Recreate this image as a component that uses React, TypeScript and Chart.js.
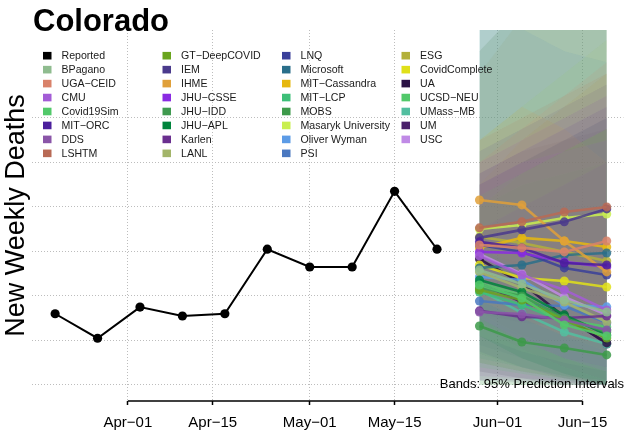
import React, { useEffect, useRef } from "react";
import { Chart, registerables } from "chart.js";

Chart.register(...registerables);

const TITLE = "Colorado";
const Y_TITLE = "New Weekly Deaths";
const BANDS_NOTE = "Bands: 95% Prediction Intervals";

const REPORTED_DATES = [
  "2021-03-20", "2021-03-27", "2021-04-03", "2021-04-10", "2021-04-17",
  "2021-04-24", "2021-05-01", "2021-05-08", "2021-05-15", "2021-05-22",
];
const REPORTED_VALUES = [32, 21, 35, 31, 32, 61, 53, 53, 87, 61];

const FORECAST_DATES = ["2021-05-29", "2021-06-05", "2021-06-12", "2021-06-19"];

const MODEL_NAMES = [
  "BPagano", "UGA\u2212CEID", "CMU", "Covid19Sim", "MIT\u2212ORC", "DDS", "LSHTM",
  "GT\u2212DeepCOVID", "IEM", "IHME", "JHU\u2212CSSE", "JHU\u2212IDD", "JHU\u2212APL", "Karlen", "LANL",
  "LNQ", "Microsoft", "MIT\u2212Cassandra", "MIT\u2212LCP", "MOBS", "Masaryk University", "Oliver Wyman", "PSI",
  "ESG", "CovidComplete", "UA", "UCSD\u2212NEU", "UMass\u2212MB", "UM", "USC",
];
const MODEL_COLORS = [
  "#8fbc8f", "#d9826a", "#a35cd6", "#52c96a", "#4b1f9c", "#8a55a8", "#b86a55",
  "#6aa51e", "#4a3a8c", "#e0a03a", "#8a2be2", "#3f9a4f", "#00843c", "#6a2f8f", "#a3b56a",
  "#3a3f9a", "#2a6f8a", "#e6b80f", "#3dbf78", "#3d9a4a", "#c9ef50", "#5c9be6", "#4a78c0",
  "#b3b03a", "#e0e019", "#2b1245", "#52c96a", "#52bfa0", "#4a1f6a", "#c08ae6",
];

// point forecasts (May 29, Jun 5, Jun 12, Jun 19)
const BPAGANO = [51.7, 45.4, 38.2, 32.8];
const UGA_CEID = [62.9, 61.6, 59.8, 64.7];
const CMU = [58.0, 49.4, 42.7, 33.7];
const COVID19SIM = [44.9, 39.1, 27.0, 22.0];
const MIT_ORC = [64.3, 61.6, 54.8, 53.9];
const DDS = [32.8, 31.9, 29.2, 24.7];
const LSHTM = [70.6, 73.3, 77.7, 80.0];
const GT_DEEPCOVID = [42.7, 38.2, 29.2, 21.1];
const IEM = [66.1, 69.7, 73.3, 79.1];
const IHME = [83.1, 80.9, 64.7, 50.8];
const JHU_CSSE = [59.8, 59.3, 55.3, 53.0];
const JHU_IDD = [43.6, 40.0, 30.1, 23.8];
const JHU_APL = [47.2, 41.8, 31.5, 22.5];
const KARLEN = [33.3, 30.6, 30.1, 31.0];
const LANL = [50.8, 43.6, 37.3, 28.3];
const LNQ = [62.9, 59.8, 52.6, 49.4];
const MICROSOFT = [52.6, 53.9, 58.4, 59.3];
const MIT_CASSANDRA = [61.6, 66.1, 64.7, 62.0];
const MIT_LCP = [41.8, 36.0, 28.3, 24.7];
const MOBS = [26.5, 19.3, 16.6, 13.5];
const MASARYK = [70.1, 71.9, 75.0, 76.8];
const OLIVER_WYMAN = [48.5, 47.2, 36.0, 35.1];
const PSI = [37.7, 36.0, 35.5, 27.9];
const ESG = [66.5, 63.8, 59.8, 55.7];
const COVIDCOMPLETE = [53.9, 48.1, 46.7, 44.0];
const UA = [56.6, 45.8, 30.6, 18.9];
const UCSD_NEU = [45.8, 40.4, 29.2, 26.1];
const UMASS_MB = [42.7, 32.4, 23.8, 18.4];
const UM = [45.8, 37.3, 31.5, 18.4];
const USC = [58.9, 49.9, 39.5, 31.5];

const MODEL_POINTS = [
  BPAGANO, UGA_CEID, CMU, COVID19SIM, MIT_ORC, DDS, LSHTM,
  GT_DEEPCOVID, IEM, IHME, JHU_CSSE, JHU_IDD, JHU_APL, KARLEN, LANL,
  LNQ, MICROSOFT, MIT_CASSANDRA, MIT_LCP, MOBS, MASARYK, OLIVER_WYMAN, PSI,
  ESG, COVIDCOMPLETE, UA, UCSD_NEU, UMASS_MB, UM, USC,
];

// 95% prediction interval bounds
const MODEL_LOWER = [
  [22, 15, 10, 6], [38, 30, 22, 18], [30, 20, 12, 6], [8, 5, 2, 0], [42, 32, 24, 18], [4, 3, 2, 0], [40, 35, 30, 28],
  [10, 6, 3, 0], [45, 40, 35, 35], [62, 52, 38, 26], [28, 20, 12, 8], [0, 0, 0, 0], [22, 12, 5, 0], [2, 2, 1, 0], [28, 20, 12, 8],
  [15, 8, 3, 0], [32, 28, 26, 24], [42, 40, 36, 32], [12, 8, 4, 2], [0, 0, 0, 0], [42, 36, 30, 25], [28, 22, 12, 8], [18, 12, 5, 0],
  [42, 32, 22, 15], [32, 22, 16, 12], [6, 3, 0, 0], [14, 8, 4, 0], [10, 6, 3, 0], [2, 1, 0, 0], [26, 16, 8, 2],
];
const MODEL_UPPER = [
  [170, 190, 210, 230], [100, 115, 130, 145], [90, 100, 105, 110], [85, 95, 105, 115], [95, 105, 115, 125], [70, 80, 90, 100], [110, 120, 130, 140],
  [80, 95, 105, 115], [105, 115, 125, 135], [110, 125, 115, 100], [100, 110, 120, 130], [180, 210, 240, 260], [90, 100, 110, 120], [90, 100, 110, 120], [150, 170, 190, 210],
  [200, 190, 180, 170], [150, 170, 185, 200], [90, 110, 125, 140], [80, 90, 95, 100], [60, 55, 55, 50], [110, 125, 140, 155], [170, 160, 150, 145], [70, 80, 90, 100],
  [140, 165, 190, 210], [85, 95, 105, 115], [95, 105, 110, 115], [80, 90, 95, 100], [160, 180, 200, 220], [90, 100, 105, 110], [90, 100, 110, 120],
];

const X_TICK_DATES = ["2021-04-01", "2021-04-15", "2021-05-01", "2021-05-15", "2021-06-01", "2021-06-15"];
const X_TICK_LABELS = ["Apr\u221201", "Apr\u221215", "May\u221201", "May\u221215", "Jun\u221201", "Jun\u221215"];
const Y_GRID_VALUES = [0, 20, 40, 60, 80, 100, 120];

const X_MIN = -15.75;
const X_MAX = 81.75;
const Y_MIN = -7.2;
const Y_MAX = 159.5;

const FONT = '"Liberation Sans", Arial, Helvetica, sans-serif';

function dayNum(s: string): number {
  const [y, m, d] = s.split("-").map(Number);
  return (Date.UTC(y, m - 1, d) - Date.UTC(2021, 3, 1)) / 86400000;
}

function withAlpha(hex: string, a: number): string {
  const r = parseInt(hex.slice(1, 3), 16);
  const g = parseInt(hex.slice(3, 5), 16);
  const b = parseInt(hex.slice(5, 7), 16);
  return `rgba(${r},${g},${b},${a})`;
}

const overlayPlugin = {
  id: "overlay",
  afterDraw(chart: any) {
    const ctx = chart.ctx as CanvasRenderingContext2D;
    const xs = chart.scales.x;
    const area = chart.chartArea;
    ctx.save();
    // x axis line (between first and last tick)
    ctx.strokeStyle = "#000";
    ctx.lineWidth = 1.6;
    ctx.beginPath();
    ctx.moveTo(xs.getPixelForValue(dayNum(X_TICK_DATES[0])), area.bottom);
    ctx.lineTo(xs.getPixelForValue(dayNum(X_TICK_DATES[X_TICK_DATES.length - 1])), area.bottom);
    ctx.stroke();

    // title
    ctx.fillStyle = "#000";
    ctx.textAlign = "left";
    ctx.textBaseline = "alphabetic";
    ctx.font = `bold 31px ${FONT}`;
    ctx.fillText(TITLE, 33, 30.5);

    // legend
    const names = ["Reported", ...MODEL_NAMES];
    const colors = ["#000000", ...MODEL_COLORS];
    ctx.font = `10.6px ${FONT}`;
    ctx.textBaseline = "middle";
    names.forEach((name, i) => {
      const col = Math.floor(i / 8);
      const row = i % 8;
      const x = 43 + col * 119.5;
      const y = 55.7 + row * 13.95;
      ctx.fillStyle = colors[i];
      ctx.fillRect(x, y - 3.8, 8.5, 7.6);
      ctx.fillStyle = "#1a1a1a";
      ctx.fillText(name, x + 18.5, y + 0.5);
    });

    // bands note
    ctx.font = `13px ${FONT}`;
    ctx.textAlign = "right";
    ctx.fillStyle = "#000";
    ctx.fillText(BANDS_NOTE, 624, 384.5);
    ctx.restore();
  },
};

export default function App() {
  const ref = useRef<HTMLCanvasElement | null>(null);

  useEffect(() => {
    if (!ref.current) return;
    const fx = FORECAST_DATES.map(dayNum);
    const datasets: any[] = [];

    datasets.push({
      label: "Reported",
      data: REPORTED_DATES.map((d, i) => ({ x: dayNum(d), y: REPORTED_VALUES[i] })),
      borderColor: "#000",
      backgroundColor: "#000",
      borderWidth: 2,
      pointRadius: 4.6,
      pointBorderWidth: 0,
      fill: false,
    });

    MODEL_NAMES.forEach((name, k) => {
      const c = MODEL_COLORS[k];
      datasets.push({
        label: name,
        data: fx.map((x, i) => ({ x, y: MODEL_POINTS[k][i] })),
        borderColor: withAlpha(c, 0.85),
        backgroundColor: withAlpha(c, 0.85),
        borderWidth: 2.6,
        pointRadius: 4.5,
        pointBorderWidth: 0,
        fill: false,
      });
    });

    MODEL_NAMES.forEach((name, k) => {
      const c = MODEL_COLORS[k];
      datasets.push({
        label: name + " lower",
        data: fx.map((x, i) => ({ x, y: MODEL_LOWER[k][i] })),
        borderWidth: 0,
        pointRadius: 0,
        borderColor: "rgba(0,0,0,0)",
        fill: false,
      });
      datasets.push({
        label: name + " upper",
        data: fx.map((x, i) => ({ x, y: MODEL_UPPER[k][i] })),
        borderWidth: 0,
        pointRadius: 0,
        borderColor: "rgba(0,0,0,0)",
        backgroundColor: withAlpha(c, 0.12),
        fill: "-1",
      });
    });

    const gridDash = { display: false, dash: [1, 2] };

    const chart = new Chart(ref.current, {
      type: "line",
      data: { datasets },
      plugins: [overlayPlugin],
      options: {
        animation: false,
        responsive: false,
        devicePixelRatio: 1,
        layout: { padding: { left: 0, right: 0, top: 30, bottom: -4 } },
        plugins: {
          legend: { display: false },
          tooltip: { enabled: false },
          filler: { drawTime: "beforeDatasetsDraw" },
        },
        elements: { line: { tension: 0 } },
        scales: {
          x: {
            type: "linear",
            min: X_MIN,
            max: X_MAX,
            afterBuildTicks: (scale: any) => {
              scale.ticks = X_TICK_DATES.map((d) => ({ value: dayNum(d) }));
            },
            ticks: {
              autoSkip: false,
              maxRotation: 0,
              padding: 9,
              color: "#000",
              font: { family: FONT, size: 15 },
              callback: (_v: any, i: number) => X_TICK_LABELS[i],
            },
            grid: {
              color: "#bdbdbd",
              lineWidth: 1,
              tickLength: 4,
              tickColor: "#000",
              tickWidth: 1.5,
              tickBorderDash: [],
            },
            border: gridDash,
          },
          y: {
            type: "linear",
            min: Y_MIN,
            max: Y_MAX,
            afterBuildTicks: (scale: any) => {
              scale.ticks = Y_GRID_VALUES.map((v) => ({ value: v }));
            },
            ticks: { display: false },
            grid: {
              color: "#bdbdbd",
              lineWidth: 1,
              drawTicks: false,
            },
            border: gridDash,
            title: {
              display: true,
              text: Y_TITLE,
              color: "#000",
              font: { family: FONT, size: 27, lineHeight: 1.2 },
              padding: 0,
            },
          },
        },
      } as any,
    });
    return () => chart.destroy();
  }, []);

  return (
    <div style={{ position: "absolute", left: 0, top: 0, width: 628, height: 437, background: "#fff" }}>
      <canvas ref={ref} width={628} height={437} style={{ display: "block" }} />
    </div>
  );
}
